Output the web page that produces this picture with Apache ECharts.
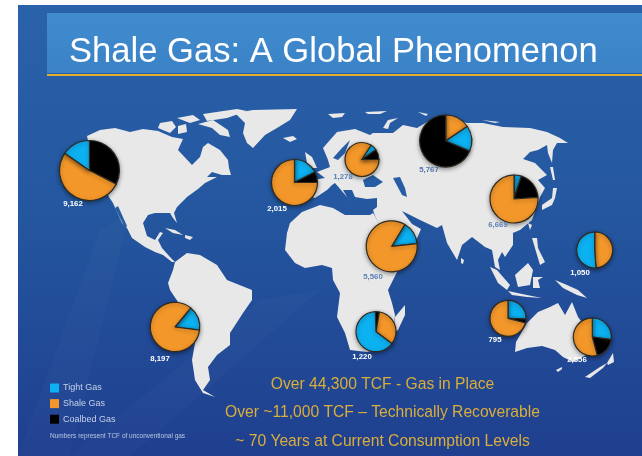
<!DOCTYPE html>
<html><head><meta charset="utf-8">
<style>html,body{margin:0;padding:0;background:#fff}#c{width:642px;height:456px;filter:blur(0.45px)}</style>
<script src="https://cdn.jsdelivr.net/npm/echarts@6/dist/echarts.min.js"></script>
</head><body><div id="c"></div>
<script>
// ---------- data ----------
const titleText = "Shale Gas: A Global Phenomenon";
const legendNames = ["Tight Gas", "Shale Gas", "Coalbed Gas"];
const footnote = "Numbers represent TCF of unconventional gas";
const summaryLines = ["Over 44,300 TCF - Gas in Place", "Over ~11,000 TCF \u2013 Technically Recoverable", "~ 70 Years at Current Consumption Levels"];
const totals   = ["9,162","2,015","1,278","5,767","6,669","5,560","1,050","8,197","1,220","795","2,556"];
const tightGas = [15.3, 17.5,  6.1, 15.8,  5.0, 14.7, 51.1, 16.0, 64.2, 25.8, 27.2];
const shaleGas = [52.2, 75.0, 84.2, 15.6, 76.1, 85.3, 48.9, 84.0, 32.5, 70.8, 54.2];
const coalGas  = [32.5,  7.5,  9.7, 68.6, 18.9,  0.0,  0.0,  0.0,  3.3,  3.4, 18.6];

// ---------- layout and style ----------
const T="Tight Gas", S="Shale Gas", C="Coalbed Gas";
const sliceOrder = [[C,S,T],[T,C,S],[S,T,C],[S,T,C],[T,C,S],[T,S,C],[S,T,C],[T,S,C],[C,S,T],[T,C,S],[T,C,S]];
const startAngles = [90,90,0,90,90,59,90,50.5,92,90,90];
const centers = [[89.5,170.5],[294.5,182.5],[362,159.5],[445.7,141],[514,199],[391.7,246.3],[594.7,250],[175,327],[376,331.7],[508,318.3],[592.3,337]];
const radii = [30,23,17,26,24,25.5,18,24.7,20,18,19];
const labelPos = [[73,204],[277,209],[343,177],[429,170],[498,225],[373,277],[580,273],[160,359],[362,357],[495,340],[577,360]];
const labelColors = ["#fff","#fff","#5b7fb6","#4f74ad","#5b7fb6","#5b7fb6","#fff","#fff","#fff","#fff","#fff"];
const colorOf = {[T]:"#0cb1f2",[S]:"#f3972a",[C]:"#000"};
const valueOf = {[T]:tightGas,[S]:shaleGas,[C]:coalGas};

const land = [
 // North + Central America
 [87,136,100,130,115,128,130,132,143,129,158,131,172,137,183,139,178,150,192,165,200,157,203,147,208,143,220,150,228,160,229,168,231,175,222,175,212,172,207,177,217,177,205,183,198,189,187,197,177,207,174,213,177,223,173,218,170,213,155,213,148,215,143,223,147,236,155,240,160,232,163,233,158,240,162,248,170,257,175,262,172,262,163,255,155,252,145,247,132,238,127,228,122,223,113,203,109,197,100,175,90,150],
 // Arctic islands
 [160,123,172,121,176,127,170,133,158,128],[178,126,186,124,187,132,178,134],[177,118,193,115,200,120,190,123],[203,114,237,109,247,111,227,118,207,121],[198,124,213,120,228,130,230,137,220,135,212,128],
 // Greenland, Iceland
 [235,113,253,110,297,109,290,120,277,128,265,135,253,148,247,143,243,133,245,123],[283,138,293,136,297,139,290,142],
 // Cuba, Hispaniola
 [165,228,175,230,183,235,173,233],[185,235,193,237,190,240,185,238],
 // South America
 [175,262,187,253,200,255,217,265,227,280,252,290,252,300,243,313,230,333,230,345,217,355,208,367,210,380,203,390,215,397,203,393,195,380,192,360,195,343,192,327,180,305,170,290,168,283,173,270],
 // Africa
 [290,223,302,212,320,205,333,208,345,215,370,215,373,213,385,233,400,245,416,245,408,258,398,270,388,290,392,303,395,315,393,333,387,347,367,352,350,350,345,333,337,317,340,293,333,280,332,268,322,265,305,268,295,263,285,250,287,233],
 // Madagascar
 [395,317,405,305,405,315,398,330,393,333],
 // Eurasia
 [313,180,325,178,317,172,330,167,328,160,323,148,337,132,355,129,370,135,373,133,393,133,403,125,417,128,427,122,445,118,467,123,483,123,503,127,530,128,547,132,560,138,568,143,557,143,553,150,552,163,548,153,547,145,538,150,530,152,523,159,535,163,547,175,538,180,545,188,540,197,538,203,532,220,520,230,508,235,513,233,513,245,505,257,502,252,498,260,500,270,495,267,492,250,485,247,472,237,462,245,457,260,447,243,442,225,437,228,420,220,402,211,412,224,421,229,415,243,400,250,385,235,375,216,373,210,377,207,377,198,367,199,355,197,352,190,343,190,350,202,347,197,335,183,332,185,327,190,315,198,305,195,308,182],
 // UK, Svalbard & Arctic
 [305,152,312,157,317,168,308,168],[383,128,388,120,398,118,390,123,388,129],[328,114,345,113,342,117,333,118],[365,112,387,111,380,114,368,114],[418,112,428,114,426,116],[482,120,500,122,495,123],
 // SE Asia
 [490,267,497,270,510,285,507,290,498,283],[508,291,527,295,542,298,527,297,512,295],[515,275,528,263,533,270,530,285,518,287],[533,277,543,277,538,280,540,288,533,288],[532,238,537,238,538,248,545,262,540,265,537,255],[555,280,567,285,578,290,587,298,577,295,563,288],[528,223,532,225,530,230],[461,258,464,260,463,264,461,263],
 // Japan, Sakhalin
 [557,188,555,198,552,205,542,210,542,205,552,198,553,188],[550,167,553,167,555,180,553,180],
 // Australia, Tasmania, NZ
 [515,352,516,342,527,323,538,312,550,307,558,303,565,315,572,302,578,317,590,333,590,353,573,362,563,357,555,350,542,346,527,348],[556,370,562,367,562,369,558,372],[585,377,600,367,607,363,603,368,590,378],[607,363,613,353,614,362,608,365]
];
const seas = [
 [115,208,125,228,127,226,118,206],
 [363,180,373,175,383,182,375,187,365,187],
 [393,178,400,177,405,188,407,197,402,195],
 [333,158,342,148,350,140,345,153,338,160]
];
const pts = a => { const o=[]; for(let i=0;i<a.length;i+=2) o.push([a[i],a[i+1]]); return o; };
const poly = (a,fill,z) => ({type:'polygon',z,silent:true,shape:{points:pts(a)},style:{fill}});
const txt = (text,x,y,font,fill,align,z) => ({type:'text',z:z||100,silent:true,x,y,style:{text,font,fill,align:align||'center',verticalAlign:'middle'}});

const graphic = [
 {type:'rect',z:-20,silent:true,shape:{x:18,y:5,width:624,height:451},
  style:{fill:{type:'linear',x:0,y:0,x2:0,y2:1,colorStops:[{offset:0,color:'#2a62aa'},{offset:.45,color:'#24579f'},{offset:1,color:'#1f3f8f'}]}}},
 poly([18,456,70,456,130,210,100,230],'rgba(255,255,255,.018)',-19),
 poly([70,456,130,456,320,290,260,300],'rgba(255,255,255,.018)',-19),
 {type:'rect',z:-15,silent:true,shape:{x:47,y:13,width:595,height:60},
  style:{fill:{type:'linear',x:0,y:0,x2:0,y2:1,colorStops:[{offset:0,color:'#408ccf'},{offset:1,color:'#3b82c6'}]}}},
 {type:'rect',z:-14,silent:true,shape:{x:47,y:74,width:595,height:2},style:{fill:'#e5b02f'}},
 txt(titleText,69,52,'34.6px "Liberation Sans"','#fff','left')
];
land.forEach(a=>graphic.push(poly(a,'#e8e8e8',-10)));
seas.forEach(a=>graphic.push(poly(a,'#275da4',-9)));
totals.forEach((t,i)=>graphic.push(txt(t,labelPos[i][0],labelPos[i][1],'bold 7.8px "Liberation Sans Narrow","Liberation Sans"',labelColors[i])));
[385,413,442].forEach((y,i)=>graphic.push(txt(summaryLines[i],382.5,y,'15.65px "Liberation Sans"','#d9ae3a')));
graphic.push(txt(footnote,50,436,'6.5px "Liberation Sans"','#b9c7df','left'));

const series = totals.map((t,i)=>({
  type:'pie',name:t,center:centers[i],radius:[0,radii[i]],startAngle:startAngles[i],clockwise:true,
  silent:true,animation:false,label:{show:false},labelLine:{show:false},z:5,
  itemStyle:{borderColor:'#2f2a20',borderWidth:1.2,shadowColor:'rgba(0,0,0,.4)',shadowBlur:4,shadowOffsetY:1.5},
  data:sliceOrder[i].filter(n=>valueOf[n][i]>0).map(n=>({name:n,value:valueOf[n][i],itemStyle:{color:colorOf[n]}}))
}));

const chart = echarts.init(document.getElementById('c'),null,{renderer:'canvas',width:642,height:456});
chart.setOption({
  animation:false,backgroundColor:'#fff',graphic,series,
  legend:{show:true,data:legendNames.map(n=>({name:n,icon:'rect',itemStyle:{color:colorOf[n],borderWidth:0,shadowBlur:0,shadowOffsetY:0}})),orient:'vertical',left:50,top:383.5,padding:0,
    itemWidth:9,itemHeight:9,itemGap:6.6,selectedMode:false,
    textStyle:{color:'#c5d2e8',fontSize:9,fontFamily:'"Liberation Sans Narrow","Liberation Sans"',padding:[0,0,0,-1]}}
});
</script></body></html>
